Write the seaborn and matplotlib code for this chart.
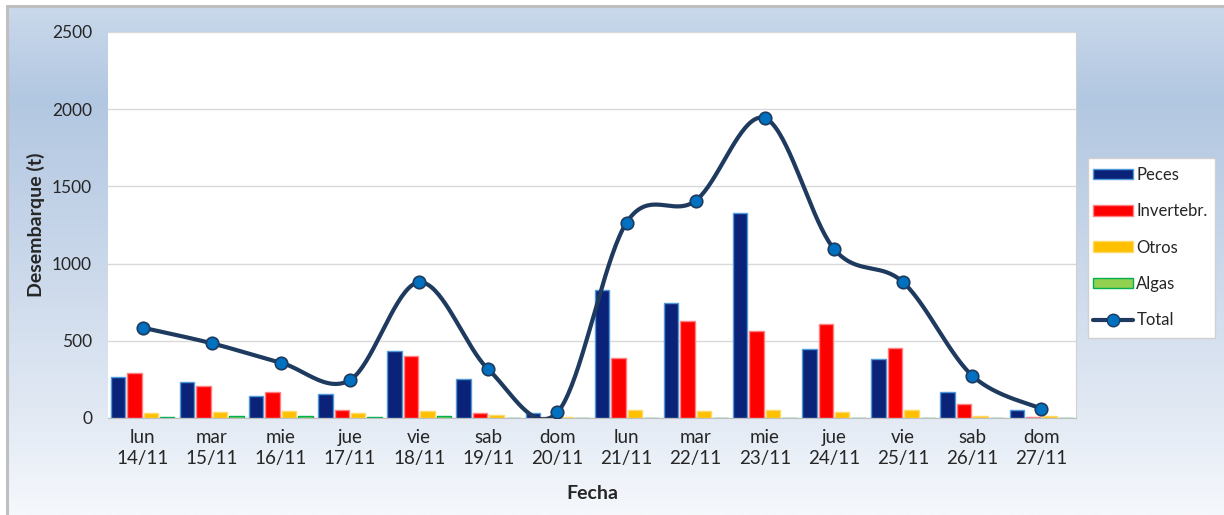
import numpy as np
import pandas as pd
import seaborn as sns
from matplotlib import pyplot as plt
from matplotlib.colors import LinearSegmentedColormap
from matplotlib.lines import Line2D
from matplotlib.patches import Patch, Rectangle

dias = ['lun\n14/11', 'mar\n15/11', 'mie\n16/11', 'jue\n17/11', 'vie\n18/11', 'sab\n19/11', 'dom\n20/11',
        'lun\n21/11', 'mar\n22/11', 'mie\n23/11', 'jue\n24/11', 'vie\n25/11', 'sab\n26/11', 'dom\n27/11']
peces = [264, 235, 140, 153, 432, 255, 30, 827, 745, 1326, 447, 382, 166, 52]
invertebr = [294, 207, 166, 52, 402, 32, 5, 391, 627, 562, 611, 454, 93, 5]
otros = [32, 39, 45, 32, 45, 19, 4, 52, 45, 52, 39, 52, 15, 15]
algas = [5, 15, 15, 5, 15, 3, 1, 3, 3, 3, 3, 3, 3, 1]
total = [585, 484, 358, 246, 879, 315, 37, 1266, 1408, 1942, 1095, 879, 274, 60]

tipos = ['Peces', 'Invertebr.', 'Otros', 'Algas']
colores = {'Peces': '#0a2277', 'Invertebr.': '#ff0000', 'Otros': '#ffc000', 'Algas': '#92d050'}
bordes = {'Peces': '#4f9ad8', 'Invertebr.': '#ff8080', 'Otros': '#ffd966', 'Algas': '#00b050'}


def excel_smooth(y, n=40):
    # curva suavizada tipo Excel (Catmull-Rom en forma Bezier)
    x = np.arange(len(y), dtype=float)
    p = np.column_stack([x, np.asarray(y, dtype=float)])
    pts = []
    for i in range(len(p) - 1):
        p0 = p[max(i - 1, 0)]
        p1, p2 = p[i], p[i + 1]
        p3 = p[min(i + 2, len(p) - 1)]
        b1 = p1 + (p2 - p0) / 6
        b2 = p2 - (p3 - p1) / 6
        t = np.linspace(0, 1, n)[:, None]
        seg = (1 - t) ** 3 * p1 + 3 * (1 - t) ** 2 * t * b1 + 3 * (1 - t) * t ** 2 * b2 + t ** 3 * p2
        pts.append(seg)
    pts = np.vstack(pts)
    return pts[:, 0], pts[:, 1]


df = pd.DataFrame({'Fecha': dias, 'Peces': peces, 'Invertebr.': invertebr, 'Otros': otros, 'Algas': algas})
df = df.melt(id_vars='Fecha', var_name='Tipo', value_name='t')

sns.set_style('white')
plt.rcParams['font.family'] = ['Lato', 'DejaVu Sans']

W, H = 1224, 515
fig = plt.figure(figsize=(W / 100, H / 100), dpi=100)

# fondo degradado
bg = fig.add_axes([8 / W, 0, 1 - 8 / W, 1 - 7 / H], zorder=-5)
cmap = LinearSegmentedColormap.from_list('fondo', [(0, '#cad9eb'), (0.18, '#b2c7e1'), (0.49, '#c9d7ea'),
                                                   (0.78, '#e0e8f3'), (1, '#f5f8fc')])
bg.imshow(np.linspace(0, 1, 256)[:, None], aspect='auto', cmap=cmap, extent=[0, 1, 0, 1])
bg.axis('off')
fig.add_artist(Line2D([7 / W, 7 / W], [0, 1 - 6 / H], transform=fig.transFigure, color='#bfbfbf', lw=2.2))
fig.add_artist(Line2D([7 / W, 1], [1 - 6 / H, 1 - 6 / H], transform=fig.transFigure, color='#bfbfbf', lw=2.2))

ax = fig.add_axes([108 / W, 1 - 418 / H, (1076 - 108) / W, (418 - 32) / H])
ax.set_facecolor('white')

sns.barplot(data=df, x='Fecha', y='t', hue='Tipo', hue_order=tipos, palette=colores, saturation=1,
            width=0.95, gap=0.12, legend=False, ax=ax, zorder=2)
for cont, tipo in zip(ax.containers, tipos):
    for bar in cont:
        bar.set_edgecolor(bordes[tipo])
        bar.set_linewidth(1)

xs, ys = excel_smooth(total)
ax.plot(xs, ys, color='#1f3a5f', lw=3, zorder=4, solid_capstyle='round')
ax.plot(range(len(total)), total, 'o', ms=9, mfc='#0070c0', mec='#1f3a5f', mew=1.2, zorder=5)

ax.set_ylim(0, 2500)
ax.set_yticks(range(0, 2501, 500))
ax.set_xlim(-0.5, len(dias) - 0.5)
ax.set_xticks(range(len(dias)))
ax.set_xticklabels(dias, fontsize=13.5, linespacing=1.25)
ax.set_xticks(np.arange(-0.5, len(dias), 1), minor=True)
ax.tick_params(axis='x', which='major', length=0, pad=8)
ax.tick_params(axis='x', which='minor', length=6, color='#bfbfbf', width=1)
ax.tick_params(axis='y', length=0, pad=11.5, labelsize=12.5)
ax.grid(axis='y', color='#d9d9d9', lw=1, zorder=0)
ax.set_axisbelow(True)

for s in ['top', 'left']:
    ax.spines[s].set_visible(False)
ax.spines['right'].set_color('#d0d0d0')
ax.spines['bottom'].set_color('#bfbfbf')

ax.set_xlabel('Fecha', fontsize=14, fontweight='bold', labelpad=13)
ax.set_ylabel('Desembarque (t)', fontsize=14, fontweight='bold', labelpad=5)

# caja de la leyenda
fig.add_artist(Rectangle((1088 / W, 1 - 338 / H), (1215 - 1088) / W, (338 - 158) / H,
                         transform=fig.transFigure, facecolor='white', edgecolor='#d0d0d0', lw=1, zorder=1))
handles = [Patch(facecolor=colores[t], edgecolor=bordes[t], label=t) for t in tipos]
handles.append(Line2D([], [], color='#1f3a5f', lw=3, marker='o', ms=9, mfc='#0070c0', mec='#1f3a5f', label='Total'))
leg = fig.legend(handles=handles, loc='upper left', bbox_to_anchor=(1093 / W, 1 - 167 / H),
                 frameon=False, fontsize=12, handlelength=2.4, handleheight=0.6,
                 labelspacing=1.22, handletextpad=0.2, borderpad=0, borderaxespad=0)
leg.set_zorder(2)

fig.savefig('out.png', dpi=100)
